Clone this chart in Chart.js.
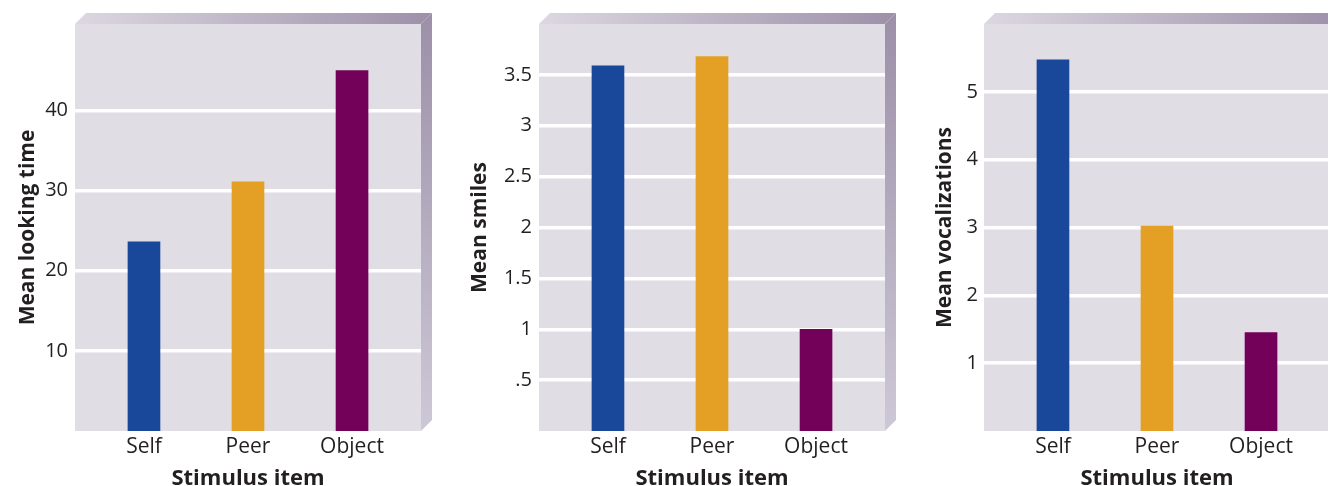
<!DOCTYPE html>
<html>
<head>
<meta charset="utf-8">
<script src="https://cdn.jsdelivr.net/npm/chart.js@4.4.1/dist/chart.umd.min.js"></script>
<style>
  html, body { margin: 0; padding: 0; background: #ffffff; overflow: hidden; }
  body { width: 1328px; height: 486px; position: relative; }
  canvas { position: absolute; top: 0; }
</style>
</head>
<body>
<canvas id="c1" width="444" height="486" style="left:0px"></canvas>
<canvas id="c2" width="444" height="486" style="left:460px"></canvas>
<canvas id="c3" width="444" height="486" style="left:920px"></canvas>
<script>
// Stimulus categories shared by the three panels
const categories = ['Self', 'Peer', 'Object'];
const barColors = ['#19479a', '#e3a025', '#730059'];

// Panel 1: looking time
const lookingTime = [23.6, 31.1, 45.0];
const lookingTicks = [10, 20, 30, 40];
const lookingTickLabels = ['10', '20', '30', '40'];

// Panel 2: smiles
const smiles = [3.59, 3.68, 1.0];
const smileTicks = [0.5, 1, 1.5, 2, 2.5, 3, 3.5];
const smileTickLabels = ['.5', '1', '1.5', '2', '2.5', '3', '3.5'];

// Panel 3: vocalizations
const vocalizations = [5.47, 3.02, 1.45];
const vocalTicks = [1, 2, 3, 4, 5];
const vocalTickLabels = ['1', '2', '3', '4', '5'];

const TEXT = '#231f20';
const FONT = '"Open Sans", Lato, sans-serif';
const DEPTH = 11;

// Draws the box behind the plot area: back wall, bevelled top and right side
const boxPlugin = {
  id: 'box3d',
  beforeDraw(chart) {
    const { ctx, chartArea: a } = chart;
    ctx.save();
    ctx.fillStyle = '#e0dde5';
    ctx.fillRect(a.left, a.top, a.right - a.left, a.bottom - a.top);

    const gTop = ctx.createLinearGradient(a.left, 0, a.right + DEPTH, 0);
    gTop.addColorStop(0, '#dcd8e1');
    gTop.addColorStop(1, '#9d90a9');
    ctx.fillStyle = gTop;
    ctx.beginPath();
    ctx.moveTo(a.left, a.top);
    ctx.lineTo(a.left + DEPTH, a.top - DEPTH);
    ctx.lineTo(a.right + DEPTH, a.top - DEPTH);
    ctx.lineTo(a.right, a.top);
    ctx.closePath();
    ctx.fill();

    const gSide = ctx.createLinearGradient(0, a.top - DEPTH, 0, a.bottom);
    gSide.addColorStop(0, '#9c8fa8');
    gSide.addColorStop(1, '#cdc8d7');
    ctx.fillStyle = gSide;
    ctx.beginPath();
    ctx.moveTo(a.right, a.top);
    ctx.lineTo(a.right + DEPTH, a.top - DEPTH);
    ctx.lineTo(a.right + DEPTH, a.bottom - DEPTH);
    ctx.lineTo(a.right, a.bottom);
    ctx.closePath();
    ctx.fill();
    ctx.restore();
  }
};

function makePanel(id, values, yTicks, yLabels, yMax, yTitle, cfg) {
  const canvas = document.getElementById(id);
  return new Chart(canvas, {
    type: 'bar',
    data: {
      datasets: [{
        data: categories.map((c, i) => ({ x: i, y: values[i] })),
        backgroundColor: barColors,
        borderWidth: 0,
        barThickness: 32
      }]
    },
    options: {
      responsive: false,
      animation: false,
      devicePixelRatio: 1,
      layout: { padding: { top: 24, right: canvas.width - cfg.plotRight, left: 0, bottom: 0 } },
      plugins: { legend: { display: false }, tooltip: { enabled: false } },
      scales: {
        x: {
          type: 'linear',
          offset: false,
          min: -0.663,
          max: 2.663,
          grid: { display: false, drawTicks: false },
          border: { display: false },
          afterBuildTicks(scale) { scale.ticks = categories.map((c, i) => ({ value: i })); },
          afterFit(scale) { scale.height = 55; },
          ticks: {
            padding: 3,
            color: TEXT,
            font: { family: FONT, size: 21 },
            callback: (v) => categories[v]
          },
          title: {
            display: true,
            text: 'Stimulus item',
            color: TEXT,
            font: { family: FONT, size: 22, weight: 'bold', lineHeight: 1 },
            padding: { top: 0, bottom: -4 }
          }
        },
        y: {
          min: 0,
          max: yMax,
          grid: { color: '#ffffff', lineWidth: 3.5, drawTicks: false },
          border: { display: false },
          afterBuildTicks(scale) { scale.ticks = yTicks.map(v => ({ value: v })); },
          afterFit(scale) { scale.width = cfg.plotLeft; },
          ticks: {
            padding: cfg.tickPad,
            color: TEXT,
            font: { family: FONT, size: 20 },
            callback: (v) => yLabels[yTicks.indexOf(v)]
          },
          title: {
            display: true,
            text: yTitle,
            color: TEXT,
            font: { family: FONT, size: 21, weight: 'bold', lineHeight: 1.2 },
            padding: { top: cfg.titlePad, bottom: 0 }
          }
        }
      }
    },
    plugins: [boxPlugin]
  });
}

makePanel('c1', lookingTime, lookingTicks, lookingTickLabels, 50.8, 'Mean looking time',
  { plotLeft: 75, plotRight: 421, tickPad: 7, titlePad: 15 });
makePanel('c2', smiles, smileTicks, smileTickLabels, 4.0, 'Mean smiles',
  { plotLeft: 79, plotRight: 425, tickPad: 7, titlePad: 7 });
makePanel('c3', vocalizations, vocalTicks, vocalTickLabels, 6.0, 'Mean vocalizations',
  { plotLeft: 64, plotRight: 410, tickPad: 6, titlePad: 12 });
</script>
</body>
</html>
